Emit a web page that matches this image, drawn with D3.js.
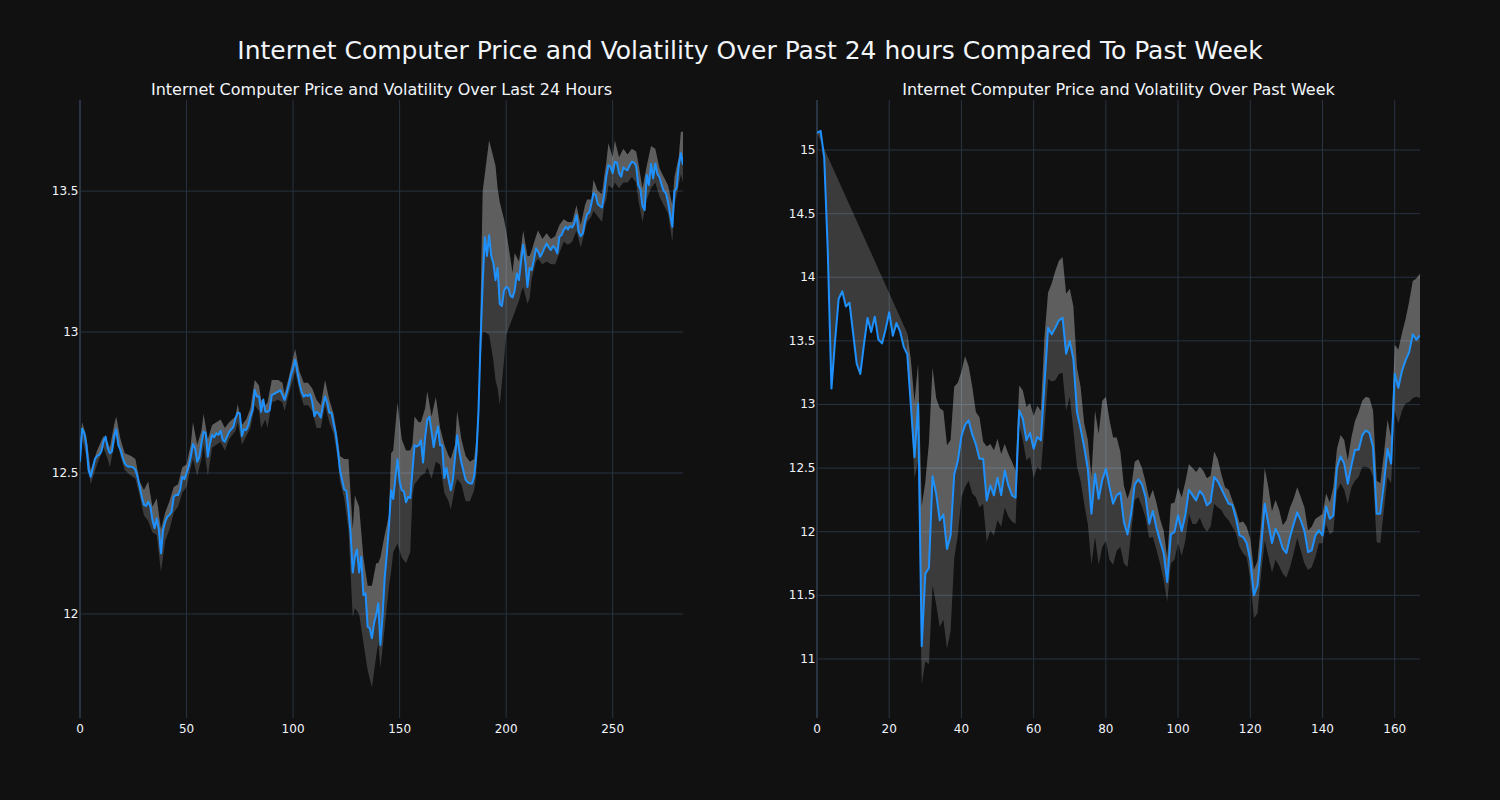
<!DOCTYPE html>
<html>
<head>
<meta charset="utf-8">
<script src="https://cdn.jsdelivr.net/npm/d3@7"></script>
<style>
  html, body { margin: 0; padding: 0; background: #111111; }
  svg { display: block; font-family: "DejaVu Sans", sans-serif; }
</style>
</head>
<body>
<svg id="chart" width="1500" height="800"></svg>
<script>
const mainTitle = 'Internet Computer Price and Volatility Over Past 24 hours Compared To Past Week';
const title24 = 'Internet Computer Price and Volatility Over Last 24 Hours';
const titleWeek = 'Internet Computer Price and Volatility Over Past Week';

// last 24 hours, 5 minute steps
const price24 = [
  12.540,12.657,12.641,12.599,12.511,12.487,12.517,12.549,12.560,12.564,
  12.576,12.611,12.629,12.588,12.570,12.576,12.629,12.655,12.599,12.582,
  12.556,12.534,12.525,12.522,12.522,12.520,12.511,12.487,12.451,12.416,
  12.387,12.383,12.398,12.383,12.333,12.304,12.339,12.298,12.215,12.298,
  12.327,12.345,12.351,12.363,12.416,12.422,12.422,12.440,12.487,12.478,
  12.499,12.522,12.558,12.603,12.588,12.540,12.556,12.607,12.646,12.641,
  12.558,12.605,12.635,12.627,12.641,12.635,12.650,12.617,12.611,12.629,
  12.646,12.655,12.664,12.694,12.714,12.711,12.631,12.655,12.652,12.670,
  12.700,12.723,12.794,12.771,12.771,12.717,12.761,12.717,12.717,12.723,
  12.777,12.780,12.785,12.788,12.794,12.777,12.759,12.783,12.812,12.848,
  12.871,12.901,12.859,12.818,12.788,12.771,12.777,12.773,12.780,12.753,
  12.702,12.717,12.711,12.697,12.738,12.771,12.749,12.714,12.714,12.676,
  12.641,12.582,12.511,12.475,12.442,12.437,12.369,12.286,12.147,12.203,
  12.229,12.147,12.203,12.067,12.073,11.955,11.949,11.914,11.967,11.996,
  12.038,11.890,11.993,12.128,12.213,12.311,12.439,12.408,12.482,12.549,
  12.470,12.439,12.435,12.396,12.415,12.411,12.506,12.598,12.594,12.598,
  12.616,12.537,12.628,12.689,12.699,12.647,12.592,12.634,12.665,12.598,
  12.598,12.482,12.518,12.476,12.439,12.476,12.555,12.634,12.579,12.537,
  12.506,12.476,12.467,12.463,12.463,12.488,12.561,12.714,12.970,13.178,
  13.336,13.270,13.343,13.270,13.245,13.184,13.227,13.099,13.092,13.147,
  13.160,13.156,13.129,13.123,13.147,13.208,13.184,13.251,13.310,13.251,
  13.160,13.227,13.220,13.255,13.297,13.285,13.267,13.281,13.299,13.314,
  13.300,13.291,13.305,13.297,13.279,13.338,13.344,13.362,13.373,13.364,
  13.376,13.371,13.385,13.415,13.356,13.340,13.350,13.391,13.418,13.423,
  13.456,13.492,13.486,13.454,13.447,13.442,13.486,13.551,13.592,13.586,
  13.563,13.604,13.601,13.563,13.551,13.584,13.577,13.574,13.592,13.604,
  13.601,13.589,13.521,13.506,13.447,13.433,13.557,13.521,13.596,13.545,
  13.598,13.560,13.549,13.521,13.500,13.492,13.459,13.415,13.373,13.501,
  13.510,13.590,13.634,13.593
];

const bandIdx24 = [
  0,1,3,5,8,11,13,14,16,17,19,21,24,26,28,30,32,34,36,38,40,42,44,46,48,50,
  52,53,55,57,58,60,62,64,66,68,70,73,74,76,78,80,82,84,85,87,88,90,93,95,96,
  98,101,103,105,107,109,111,113,115,117,119,121,122,124,126,128,129,131,133,
  135,137,139,140,141,143,145,146,147,149,151,153,155,156,157,159,160,162,163,
  165,167,169,171,173,174,176,177,179,181,183,185,186,187,188,189,190,192,194,
  195,196,197,199,200,201,203,204,206,207,208,210,211,212,214,215,217,219,221,
  223,225,227,229,231,233,235,237,238,240,241,243,245,246,247,248,250,251,253,
  255,257,259,261,262,264,266,268,270,272,274,276,278,279,281,282,283
];
const upper24 = [
  12.60,12.68,12.63,12.51,12.58,12.63,12.61,12.59,12.67,12.70,12.62,12.57,12.56,
  12.55,12.47,12.44,12.47,12.38,12.41,12.30,12.36,12.40,12.45,12.46,12.52,12.53,
  12.60,12.68,12.60,12.65,12.71,12.62,12.67,12.68,12.69,12.66,12.68,12.70,12.745,
  12.67,12.69,12.73,12.83,12.81,12.76,12.74,12.75,12.83,12.83,12.82,12.78,12.84,
  12.94,12.86,12.82,12.82,12.80,12.76,12.74,12.83,12.76,12.71,12.62,12.56,12.55,
  12.55,12.30,12.42,12.38,12.20,12.10,12.10,12.18,12.18,12.20,12.28,12.35,12.57,
  12.58,12.75,12.62,12.58,12.58,12.60,12.70,12.68,12.68,12.73,12.79,12.70,12.77,
  12.66,12.60,12.56,12.55,12.60,12.72,12.62,12.56,12.54,12.55,12.62,12.75,13.10,
  13.50,13.56,13.68,13.62,13.59,13.51,13.46,13.40,13.36,13.31,13.21,13.28,13.25,
  13.30,13.36,13.27,13.27,13.29,13.34,13.36,13.33,13.35,13.33,13.34,13.38,13.40,
  13.39,13.39,13.45,13.38,13.45,13.47,13.47,13.54,13.50,13.49,13.55,13.60,13.67,
  13.62,13.68,13.62,13.65,13.63,13.65,13.64,13.60,13.51,13.59,13.66,13.65,13.58,
  13.55,13.52,13.45,13.55,13.62,13.71,13.71
];
const lower24 = [
  12.50,12.62,12.56,12.46,12.53,12.59,12.55,12.52,12.60,12.63,12.56,12.51,12.49,
  12.48,12.42,12.35,12.33,12.29,12.28,12.15,12.26,12.30,12.36,12.38,12.43,12.45,
  12.52,12.55,12.49,12.55,12.60,12.49,12.59,12.60,12.61,12.58,12.62,12.65,12.68,
  12.60,12.63,12.66,12.74,12.72,12.66,12.69,12.66,12.75,12.76,12.75,12.72,12.78,
  12.86,12.79,12.74,12.74,12.72,12.66,12.66,12.74,12.68,12.64,12.55,12.47,12.41,
  12.30,11.99,12.02,12.00,11.90,11.80,11.74,11.85,11.90,11.81,11.95,12.10,12.15,
  12.22,12.25,12.20,12.18,12.22,12.42,12.46,12.48,12.49,12.50,12.52,12.48,12.54,
  12.53,12.43,12.40,12.37,12.45,12.48,12.46,12.40,12.40,12.44,12.50,12.65,12.90,
  13.00,13.00,12.99,12.90,12.83,12.80,12.74,12.90,12.99,13.01,13.05,13.07,13.11,
  13.14,13.16,13.10,13.12,13.19,13.25,13.26,13.24,13.25,13.24,13.24,13.28,13.32,
  13.31,13.32,13.36,13.30,13.36,13.39,13.41,13.43,13.41,13.39,13.45,13.47,13.52,
  13.51,13.53,13.51,13.53,13.53,13.55,13.53,13.47,13.39,13.47,13.51,13.53,13.48,
  13.45,13.42,13.32,13.45,13.52,13.56,13.53
];

// past week, hourly
const priceWeek = [
  15.135,15.150,14.940,14.190,13.125,13.500,13.830,13.890,13.770,13.800,
  13.560,13.320,13.240,13.470,13.680,13.570,13.690,13.510,13.480,13.590,
  13.725,13.540,13.640,13.575,13.455,13.395,12.990,12.585,13.005,11.100,
  11.670,11.715,12.435,12.300,12.090,12.135,11.865,11.970,12.450,12.555,
  12.750,12.840,12.875,12.765,12.686,12.574,12.574,12.246,12.364,12.286,
  12.425,12.286,12.482,12.364,12.286,12.267,12.954,12.888,12.718,12.776,
  12.652,12.744,12.718,13.163,13.603,13.551,13.603,13.661,13.682,13.399,
  13.499,13.360,12.941,12.810,12.665,12.495,12.142,12.456,12.259,12.404,
  12.495,12.351,12.220,12.286,12.309,12.076,11.979,12.142,12.372,12.411,
  12.372,12.273,12.063,12.163,12.032,11.927,11.833,11.605,11.979,11.998,
  12.129,12.005,12.129,12.330,12.288,12.246,12.320,12.286,12.207,12.233,
  12.430,12.396,12.338,12.278,12.220,12.212,12.110,11.971,11.958,11.911,
  11.780,11.500,11.578,11.880,12.220,12.063,11.911,12.024,11.963,11.867,
  11.832,11.958,12.058,12.152,12.089,12.005,11.840,11.853,11.969,12.011,
  11.971,12.199,12.102,12.128,12.503,12.592,12.535,12.377,12.521,12.645,
  12.645,12.757,12.796,12.776,12.665,12.142,12.142,12.377,12.652,12.535,
  13.242,13.132,13.263,13.347,13.412,13.551,13.509,13.543
];

// rolling band starts once the window is full
const bandStartWeek = 25;
const upperWeek = [
  13.56,13.35,13.02,13.32,12.20,12.39,12.70,13.29,13.05,12.97,12.95,12.68,12.72,
  13.14,13.17,13.26,13.38,13.30,13.14,12.94,12.90,12.71,12.67,12.69,12.64,12.73,
  12.61,12.69,12.61,12.55,12.48,13.15,13.11,12.98,13.01,12.91,12.99,12.95,13.53,
  13.88,13.95,14.05,14.13,14.16,13.87,13.91,13.77,13.29,13.14,12.85,12.72,12.43,
  12.95,12.77,13.03,13.06,12.88,12.74,12.74,12.63,12.36,12.26,12.35,12.55,12.57,
  12.50,12.39,12.26,12.33,12.23,12.10,12.01,11.79,12.22,12.23,12.35,12.27,12.39,
  12.53,12.50,12.47,12.51,12.48,12.42,12.44,12.63,12.57,12.45,12.35,12.33,12.25,
  12.17,12.07,12.08,12.04,11.94,11.70,11.77,12.07,12.50,12.35,12.16,12.25,12.17,
  12.05,12.09,12.19,12.26,12.35,12.27,12.19,12.01,12.04,12.10,12.12,12.14,12.30,
  12.23,12.35,12.65,12.76,12.72,12.56,12.74,12.87,12.94,13.03,13.06,13.05,12.95,
  12.40,12.38,12.61,12.88,12.74,13.47,13.43,13.56,13.67,13.81,13.97,13.99,14.03
];
const lowerWeek = [
  13.32,12.95,12.42,12.55,10.80,10.98,10.96,11.58,11.43,11.25,11.31,11.08,11.22,
  11.79,11.97,12.27,12.35,12.40,12.30,12.27,12.19,12.22,11.92,12.01,11.97,12.09,
  12.04,12.19,12.12,12.08,12.06,12.84,12.72,12.56,12.59,12.42,12.51,12.48,12.82,
  13.20,13.18,13.19,13.24,13.25,12.95,13.06,12.80,12.51,12.40,12.22,12.06,11.74,
  11.96,11.74,11.88,11.93,11.78,11.74,11.85,11.88,11.75,11.72,11.99,12.25,12.27,
  12.20,12.11,11.95,11.96,11.86,11.75,11.62,11.45,11.75,11.78,11.91,11.81,11.93,
  12.14,12.06,12.06,12.11,12.04,12.00,12.04,12.22,12.19,12.17,12.12,12.09,12.04,
  11.99,11.88,11.83,11.80,11.63,11.32,11.36,11.67,11.93,11.81,11.68,11.78,11.73,
  11.67,11.64,11.72,11.83,11.95,11.85,11.75,11.70,11.72,11.80,11.91,11.91,12.06,
  11.98,12.00,12.32,12.38,12.33,12.22,12.35,12.40,12.43,12.51,12.51,12.50,12.43,
  11.92,11.91,12.17,12.43,12.38,12.95,12.85,12.95,13.01,13.02,13.05,13.06,13.05
];

const xTicks24 = [0, 50, 100, 150, 200, 250];
const yTicks24 = [12, 12.5, 13, 13.5];
const xTicksWeek = [0, 20, 40, 60, 80, 100, 120, 140, 160];
const yTicksWeek = [11, 11.5, 12, 12.5, 13, 13.5, 14, 14.5, 15];

const W = 1500, H = 800;
const margin = { top: 100, right: 80, bottom: 82, left: 80 };
const plotW = W - margin.left - margin.right;
const gridColor = '#283442';
const textColor = '#f2f5fa';
const bandFill = 'rgba(255,255,255,0.18)';

const svg = d3.select('#chart');
svg.append('rect').attr('width', W).attr('height', H).attr('fill', '#111111');

svg.append('text')
  .attr('x', W / 2).attr('y', 59)
  .attr('text-anchor', 'middle')
  .attr('fill', textColor)
  .style('font-size', '25px')
  .text(mainTitle);

function drawPanel(cfg) {
  const x0 = margin.left + plotW * cfg.domain[0];
  const x1 = margin.left + plotW * cfg.domain[1];
  const y0 = margin.top, y1 = H - margin.bottom;

  const x = d3.scaleLinear().domain([0, cfg.price.length - 1]).range([x0, x1]);
  const y = d3.scaleLinear().domain(cfg.yDomain).range([y1, y0]);

  const g = svg.append('g');

  // grid
  g.selectAll('.gy').data(cfg.yTicks).enter().append('line')
    .attr('x1', x0).attr('x2', x1)
    .attr('y1', d => y(d)).attr('y2', d => y(d))
    .attr('stroke', gridColor).attr('stroke-width', 1);
  g.selectAll('.gx').data(cfg.xTicks).enter().append('line')
    .attr('x1', d => x(d)).attr('x2', d => x(d))
    .attr('y1', y0).attr('y2', y1)
    .attr('stroke', gridColor)
    .attr('stroke-width', d => d === 0 ? 2 : 1);

  const clipId = 'clip-' + cfg.id;
  svg.append('clipPath').attr('id', clipId)
    .append('rect').attr('x', x0).attr('y', y0).attr('width', x1 - x0).attr('height', y1 - y0);

  const pricePts = cfg.price.map((v, i) => [i, v]);
  const upperPts = cfg.bandIdx.map((b, k) => [b, cfg.upper[k]]);
  const lowerPts = cfg.bandIdx.map((b, k) => [b, cfg.lower[k]]);

  const line = d3.line().x(d => x(d[0])).y(d => y(d[1]));
  const plot = g.append('g').attr('clip-path', `url(#${clipId})`);

  // price -> upper fill, then upper -> lower fill (stacked like tonexty)
  plot.append('path')
    .attr('d', line(upperPts.concat(pricePts.slice().reverse())) + 'Z')
    .attr('fill', bandFill);
  plot.append('path')
    .attr('d', line(upperPts.concat(lowerPts.slice().reverse())) + 'Z')
    .attr('fill', bandFill);

  plot.append('path')
    .attr('d', line(pricePts))
    .attr('fill', 'none')
    .attr('stroke', '#1e90ff')
    .attr('stroke-width', 2)
    .attr('stroke-linejoin', 'round');

  // tick labels
  g.selectAll('.tx').data(cfg.xTicks).enter().append('text')
    .attr('x', d => x(d)).attr('y', y1 + 15)
    .attr('text-anchor', 'middle')
    .attr('fill', textColor).style('font-size', '12px')
    .text(d => d);
  g.selectAll('.ty').data(cfg.yTicks).enter().append('text')
    .attr('x', x0 - 1.5).attr('y', d => y(d) + 4)
    .attr('text-anchor', 'end')
    .attr('fill', textColor).style('font-size', '12px')
    .text(d => d);

  g.append('text')
    .attr('x', (x0 + x1) / 2).attr('y', 95)
    .attr('text-anchor', 'middle')
    .attr('fill', textColor).style('font-size', '16px')
    .text(cfg.title);
}

drawPanel({
  id: 'day', domain: [0, 0.45], title: title24,
  price: price24, bandIdx: bandIdx24, upper: upper24, lower: lower24,
  yDomain: [11.631, 13.823], xTicks: xTicks24, yTicks: yTicks24
});

drawPanel({
  id: 'week', domain: [0.55, 1], title: titleWeek,
  price: priceWeek,
  bandIdx: d3.range(bandStartWeek, bandStartWeek + upperWeek.length),
  upper: upperWeek, lower: lowerWeek,
  yDomain: [10.536, 15.393], xTicks: xTicksWeek, yTicks: yTicksWeek
});
</script>
</body>
</html>
